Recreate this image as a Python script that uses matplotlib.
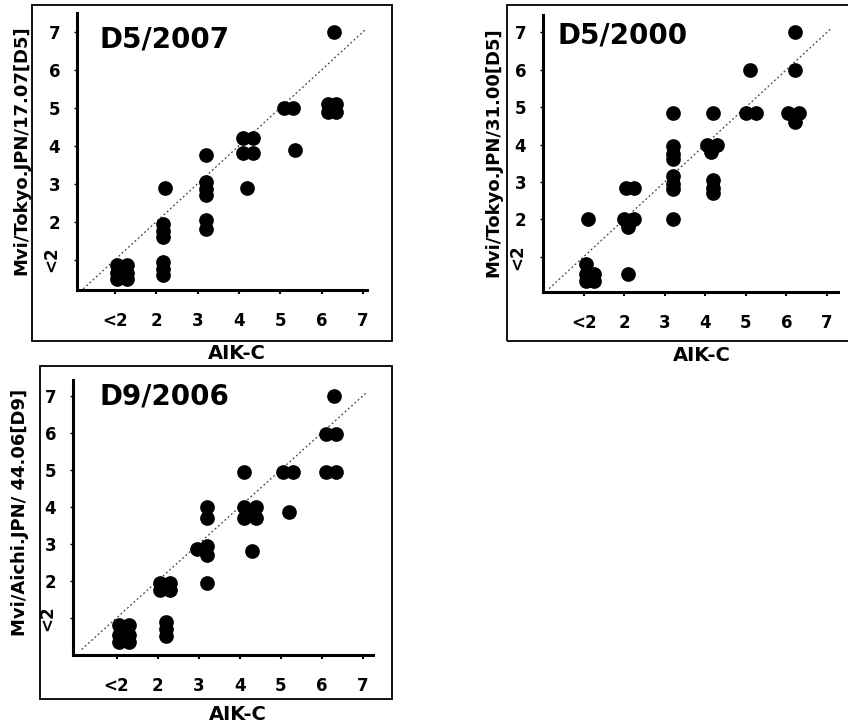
import matplotlib.pyplot as plt
from matplotlib.patches import Rectangle

# D5/2007 : AIK-C titre (x) vs MVi/Tokyo.JPN/17.07[D5] titre (y)
x_d5_2007 = [6.3, 5.1, 5.3, 6.15, 6.35, 6.15, 6.35, 5.35, 4.1, 4.35, 4.1, 4.35, 4.2,
             3.2, 3.2, 3.2, 3.2, 3.2, 3.2, 2.2, 2.15, 2.15, 2.15, 2.15, 2.15, 2.15,
             1.05, 1.3, 1.05, 1.3, 1.05, 1.3]
y_d5_2007 = [7.0, 5.0, 5.0, 5.1, 5.1, 4.9, 4.9, 3.9, 4.2, 4.2, 3.8, 3.8, 2.9,
             3.75, 3.05, 2.85, 2.7, 2.05, 1.8, 2.9, 1.95, 1.75, 1.6, 0.95, 0.75, 0.6,
             0.85, 0.85, 0.5, 0.5, 0.65, 0.65]

# D5/2000
x_d5_2000 = [6.2, 6.2, 5.1, 5.0, 5.25, 6.05, 6.3, 6.2, 4.2, 3.2, 4.05, 4.3, 4.15,
             3.2, 3.2, 3.2, 3.2, 3.2, 3.2, 3.2, 4.2, 4.2, 4.2, 2.05, 2.25, 2.0, 2.25,
             2.1, 1.1, 2.1, 1.05, 1.05, 1.05, 1.25, 1.25]
y_d5_2000 = [7.0, 6.0, 6.0, 4.85, 4.85, 4.85, 4.85, 4.6, 4.85, 4.85, 4.0, 4.0, 3.8,
             3.95, 3.75, 3.6, 3.15, 2.95, 2.8, 2.0, 3.05, 2.85, 2.7, 2.85, 2.85, 2.0, 2.0,
             1.8, 2.0, 0.55, 0.8, 0.55, 0.35, 0.55, 0.35]

# D9/2006
x_d9_2006 = [6.3, 6.1, 6.35, 6.1, 6.35, 5.05, 5.3, 5.2, 4.1, 4.1, 4.4, 4.1, 4.4, 4.25,
             4.3, 3.2, 3.2, 2.95, 3.2, 3.2, 3.2, 2.05, 2.3, 2.05, 2.3, 2.2, 2.2, 2.2,
             1.05, 1.3, 1.05, 1.3, 1.05, 1.3]
y_d9_2006 = [7.0, 5.95, 5.95, 4.95, 4.95, 4.95, 4.95, 3.85, 4.95, 4.0, 4.0, 3.7, 3.7, 3.85,
             2.8, 4.0, 3.7, 2.85, 2.95, 2.7, 1.95, 1.95, 1.95, 1.75, 1.75, 0.9, 0.7, 0.5,
             0.8, 0.8, 0.55, 0.55, 0.35, 0.35]

tick_vals = [1, 2, 3, 4, 5, 6, 7]
tick_labels = ['<2', '2', '3', '4', '5', '6', '7']
identity = [0.15, 7.08]

titles = ['D5/2007', 'D5/2000', 'D9/2006']
ylabels = ['Mvi/Tokyo.JPN/17.07[D5]', 'Mvi/Tokyo.JPN/31.00[D5]', 'Mvi/Aichi.JPN/ 44.06[D9]']
xlabel = 'AIK-C'

W, H = 848, 728
fig = plt.figure(figsize=(W / 100, H / 100), dpi=100)


def fx(px):
    return px / W


def fy(py):
    return 1 - py / H


# pixel layout of each panel: axes box, outer frame, label spots
panels = [
    dict(ax=(77, 13, 367, 290), box=(32, 5, 392, 341), lim=((0.08, 7.1), (0.2, 7.5)),
         title=(100, 39), ylab=(21, 150), xlab=(237, 353)),
    dict(ax=(543, 15, 838, 292), box=(507, 5, 870, 341), lim=((0.0, 7.27), (0.06, 7.46)),
         title=(558, 36), ylab=(493, 152), xlab=(702, 355)),
    dict(ax=(73, 380, 373, 655), box=(40, 366, 392, 699), lim=((-0.06, 7.24), (0.0, 7.42)),
         title=(100, 397), ylab=(20, 512), xlab=(238, 715)),
]
data = [(x_d5_2007, y_d5_2007), (x_d5_2000, y_d5_2000), (x_d9_2006, y_d9_2006)]

for i, p in enumerate(panels):
    l, t, r, b = p['ax']
    ax = fig.add_axes([fx(l), fy(b), fx(r) - fx(l), fy(t) - fy(b)])
    ax.patch.set_alpha(0)
    xs, ys = data[i]
    ax.plot(identity, identity, color='#444444', lw=0.9, ls=(0, (1.5, 2)), zorder=1)
    ax.scatter(xs, ys, s=112, color='black', linewidths=0, zorder=3, clip_on=False)
    ax.set_xlim(*p['lim'][0])
    ax.set_ylim(*p['lim'][1])
    for s in ['top', 'right']:
        ax.spines[s].set_visible(False)
    for s in ['left', 'bottom']:
        ax.spines[s].set_linewidth(2.2)
    ax.set_xticks(tick_vals)
    ax.set_xticklabels(tick_labels)
    ax.set_yticks(tick_vals)
    ax.set_yticklabels(tick_labels)
    ax.tick_params(axis='x', length=3, width=1.5, pad=13, labelsize=12)
    ax.tick_params(axis='y', length=2, width=1, pad=10, labelsize=12)
    for lab in ax.get_xticklabels() + ax.get_yticklabels():
        lab.set_fontweight('bold')
    ax.get_yticklabels()[0].set_rotation(90)
    ax.get_yticklabels()[0].set_va('center')

    bl, bt, br, bb = p['box']
    fig.add_artist(Rectangle((fx(bl), fy(bb)), fx(br) - fx(bl), fy(bt) - fy(bb),
                             transform=fig.transFigure, fill=False, lw=1.3, color='black'))
    fig.text(fx(p['title'][0]), fy(p['title'][1]), titles[i], fontsize=20,
             fontweight='bold', ha='left', va='center')
    fig.text(fx(p['ylab'][0]), fy(p['ylab'][1]), ylabels[i], fontsize=13,
             fontweight='bold', rotation=90, ha='center', va='center')
    fig.text(fx(p['xlab'][0]), fy(p['xlab'][1]), xlabel, fontsize=14,
             fontweight='bold', ha='center', va='center')

fig.savefig('out.png', dpi=100)
